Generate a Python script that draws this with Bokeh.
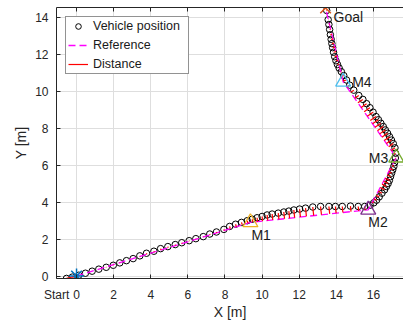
from bokeh.plotting import figure
from bokeh.models import Range1d, FixedTicker, Label, LinearAxis
from bokeh.embed import file_html
from bokeh.resources import INLINE

# ---- data ----
veh_x = [-0.54, -0.23, 0.12, 0.48, 0.84, 1.20, 1.60, 1.98, 2.33, 2.69, 3.05, 3.41, 3.77, 4.17,
         4.53, 4.92, 5.32, 5.67, 6.07, 6.43, 6.83, 7.18, 7.54, 7.94, 8.25, 8.57, 8.89, 9.20,
         9.47, 9.73, 10.00, 10.27, 10.54, 10.87, 11.17, 11.44, 11.71, 12.02, 12.34, 12.73,
         13.15, 13.60, 13.95, 14.32, 14.76, 15.18, 15.53, 15.82, 16.02, 16.17, 16.31, 16.46,
         16.60, 16.70, 16.79, 16.86, 16.92, 16.98, 17.04, 17.10, 17.14, 17.18, 17.19, 17.16,
         17.07, 16.97, 16.87, 16.76, 16.64, 16.53, 16.40, 16.27, 16.14, 15.98, 15.81, 15.63,
         15.43, 15.21, 14.94, 14.72, 14.55, 14.40, 14.27, 14.15, 14.06, 13.98, 13.91, 13.85,
         13.80, 13.76, 13.72, 13.68, 13.64, 13.60, 13.56, 13.48]
veh_y = [-0.13, -0.06, 0.04, 0.15, 0.26, 0.37, 0.47, 0.58, 0.71, 0.83, 0.94, 1.09, 1.23, 1.34,
         1.48, 1.59, 1.70, 1.80, 1.91, 2.02, 2.13, 2.27, 2.38, 2.52, 2.68, 2.80, 2.90, 2.99,
         3.07, 3.15, 3.22, 3.30, 3.35, 3.40, 3.46, 3.51, 3.57, 3.62, 3.67, 3.73,
         3.76, 3.76, 3.76, 3.76, 3.78, 3.76, 3.76, 3.83, 3.96, 4.10, 4.28, 4.48,
         4.66, 4.84, 5.00, 5.17, 5.37, 5.56, 5.74, 5.93, 6.13, 6.38, 6.64, 6.93,
         7.16, 7.35, 7.53, 7.72, 7.90, 8.08, 8.26, 8.45, 8.62, 8.86, 9.10, 9.32,
         9.55, 9.76, 10.05, 10.32, 10.60, 10.84, 11.05, 11.25, 11.44, 11.64, 11.86, 12.10,
         12.35, 12.57, 12.80, 13.05, 13.33, 13.60, 13.86, 14.36]

wp_names = ["Start", "M1", "M2", "M3", "M4", "Goal"]
wp_x = [0.0, 9.37, 15.72, 17.23, 14.37, 13.42]
wp_y = [0.0, 2.90, 3.58, 6.40, 10.50, 14.50]

x_ticks = [0, 2, 4, 6, 8, 10, 12, 14, 16]
y_ticks = [0, 2, 4, 6, 8, 10, 12, 14]
x_min, x_max = -1.08, 17.62
y_min, y_max = -0.135, 14.52

# ---- distance segments (projection onto reference polyline) ----
def project(px, py, xs, ys):
    best = None
    for i in range(len(xs) - 1):
        ax, ay, bx, by = xs[i], ys[i], xs[i + 1], ys[i + 1]
        dx, dy = bx - ax, by - ay
        t = ((px - ax) * dx + (py - ay) * dy) / (dx * dx + dy * dy)
        t = max(0.0, min(1.0, t))
        qx, qy = ax + t * dx, ay + t * dy
        d = (qx - px) ** 2 + (qy - py) ** 2
        if best is None or d < best[0]:
            best = (d, qx, qy)
    return best[1], best[2]

proj = [project(a, b, wp_x, wp_y) for a, b in zip(veh_x, veh_y)]
proj_x = [q[0] for q in proj]
proj_y = [q[1] for q in proj]

FONT = "Liberation Sans"
TXT = "#262626"

p = figure(width=403, height=322, output_backend="svg", toolbar_location=None,
           x_range=Range1d(x_min, x_max), y_range=Range1d(y_min, y_max),
           min_border_left=56, min_border_right=0, min_border_top=7, min_border_bottom=43)
p.background_fill_color = "white"
p.border_fill_color = "white"
p.outline_line_color = None

p.scatter(veh_x, veh_y, marker="circle", size=6.5, fill_alpha=0, line_color="black",
          line_width=1.0, legend_label="Vehicle position")
p.line(wp_x, wp_y, line_color="#FF00FF", line_width=1.3, line_dash="7 4",
       legend_label="Reference")
p.segment(veh_x, veh_y, proj_x, proj_y, line_color="#FF0000", line_width=1.2,
          legend_label="Distance")

# waypoint markers
p.scatter([wp_x[0]], [wp_y[0]], marker="asterisk", size=15, line_color="#0072BD", line_width=1.5)
p.scatter([wp_x[1]], [wp_y[1]], marker="triangle", size=15, fill_alpha=0, line_color="#EDB120", line_width=1.3)
p.scatter([wp_x[2]], [wp_y[2]], marker="triangle", size=15, fill_alpha=0, line_color="#7E2F8E", line_width=1.3)
p.scatter([wp_x[3]], [wp_y[3]], marker="triangle", size=15, fill_alpha=0, line_color="#77AC30", line_width=1.3)
p.scatter([wp_x[4]], [wp_y[4]], marker="triangle", size=15, fill_alpha=0, line_color="#4DBEEE", line_width=1.3)
p.scatter([wp_x[5]], [wp_y[5]], marker="x", size=15, line_color="#D95319", line_width=1.5)

# waypoint labels (Start is outside the frame, drawn as an axis tick label below)
offs = {"M1": (1, -13, "left"), "M2": (0, -12, "left"),
        "M3": (-8, 0, "right"), "M4": (9, 0, "left"), "Goal": (8, -9, "left")}
for name, x, y in zip(wp_names, wp_x, wp_y):
    if name not in offs:
        continue
    dx, dy, al = offs[name]
    p.add_layout(Label(x=x, y=y, text=name, x_offset=dx, y_offset=dy, text_align=al,
                       text_baseline="middle", text_font=FONT, text_font_size="14px",
                       text_color="#1a1a1a"))

# axes
for ax in (p.xaxis[0], p.yaxis[0]):
    ax.axis_line_color = TXT
    ax.major_tick_line_color = TXT
    ax.major_tick_in = 4
    ax.major_tick_out = 0
    ax.minor_tick_line_color = None
    ax.major_label_text_font = FONT
    ax.major_label_text_font_size = "12px"
    ax.major_label_text_color = TXT
    ax.axis_label_text_font = FONT
    ax.axis_label_text_font_size = "14px"
    ax.axis_label_text_font_style = "normal"
    ax.axis_label_text_color = TXT
start_tick = x_min + 0.005
p.xaxis.ticker = FixedTicker(ticks=[start_tick] + x_ticks)
p.xaxis.major_label_overrides = {start_tick: wp_names[0]}
p.yaxis.ticker = FixedTicker(ticks=y_ticks)
p.xaxis.axis_label = "X [m]"
p.yaxis.axis_label = "Y [m]"
p.xaxis.major_label_standoff = 9
p.xaxis.axis_label_standoff = -1
p.yaxis.major_label_standoff = 8
p.yaxis.axis_label_standoff = 3

top = LinearAxis(ticker=FixedTicker(ticks=x_ticks), major_label_text_font_size="0px",
                 major_label_text_color=None,
                 major_tick_in=4, major_tick_out=0, minor_tick_line_color=None,
                 axis_line_color=TXT, major_tick_line_color=TXT, major_label_standoff=0)
p.add_layout(top, "above")

p.grid.grid_line_color = "#dedede"
p.grid.grid_line_width = 1

# legend
lg = p.legend[0]
lg.location = "top_left"
lg.margin = 9
lg.label_text_font = FONT
lg.label_text_font_size = "12.5px"
lg.label_text_color = "#1a1a1a"
lg.glyph_width = 20
lg.glyph_height = 14
lg.label_height = 14
lg.label_standoff = 5
lg.label_width = 93
lg.padding = 2
lg.spacing = 5
lg.border_line_color = TXT
lg.border_line_width = 1
lg.background_fill_alpha = 1

open("out.html", "w").write(file_html(p, INLINE))
